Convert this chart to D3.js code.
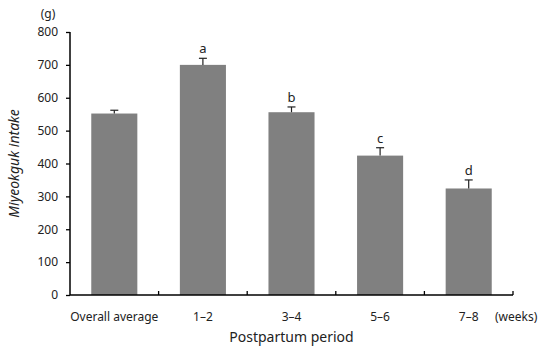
<!DOCTYPE html>
<html>
<head>
<meta charset="utf-8">
<script src="https://cdn.jsdelivr.net/npm/d3@7"></script>
<style>
  body { margin: 0; background: #fff; }
  text { font-family: "Noto Sans", "Open Sans", sans-serif; fill: #222; }
</style>
</head>
<body>
<svg></svg>
<script>
var categories = ["Overall average", "1\u20132", "3\u20134", "5\u20136", "7\u20138"];
var intake = [552, 700, 556, 424, 324];
var errors = [10, 20, 16, 24, 26];
var letters = ["", "a", "b", "c", "d"];
var yTicks = [0, 100, 200, 300, 400, 500, 600, 700, 800];

var margin = {top: 32, right: 37, bottom: 59, left: 70},
    width = 550 - margin.left - margin.right,
    height = 354 - margin.top - margin.bottom;

var svg = d3.select("svg").attr("width", 550).attr("height", 354),
    g = svg.append("g").attr("transform", "translate(" + margin.left + "," + margin.top + ")");

var xScale = d3.scaleBand().domain(categories).range([0, width]).paddingInner(0.48).paddingOuter(0.24);
var xEdges = d3.scaleLinear().domain([0, categories.length]).range([0, width]);
var yScale = d3.scaleLinear().domain([0, 800]).range([height, 0]);

// bars
g.selectAll(".bar")
  .data(intake)
  .enter().append("rect")
    .attr("class", "bar")
    .attr("x", function(d, i) { return xScale(categories[i]); })
    .attr("width", xScale.bandwidth())
    .attr("y", function(d) { return yScale(d); })
    .attr("height", function(d) { return height - yScale(d); })
    .style("fill", "#808080");

// error bars (upper only)
var eb = g.selectAll(".err")
  .data(intake)
  .enter().append("g")
    .attr("class", "err")
    .attr("transform", function(d, i) { return "translate(" + (xScale(categories[i]) + xScale.bandwidth() / 2) + ",0)"; });
eb.append("line")
    .attr("y1", function(d) { return yScale(d); })
    .attr("y2", function(d, i) { return yScale(d + errors[i]); })
    .style("stroke", "#222").style("stroke-width", 1.2);
eb.append("line")
    .attr("x1", -4).attr("x2", 4)
    .attr("y1", function(d, i) { return yScale(d + errors[i]); })
    .attr("y2", function(d, i) { return yScale(d + errors[i]); })
    .style("stroke", "#222").style("stroke-width", 1.2);
eb.append("text")
    .attr("text-anchor", "middle")
    .attr("y", function(d, i) { return yScale(d + errors[i]) - 5; })
    .style("font-size", "13px")
    .text(function(d, i) { return letters[i]; });

// y axis
var yAxis = g.append("g")
    .call(d3.axisLeft(yScale).tickValues(yTicks).tickSize(4).tickPadding(8));
yAxis.select(".domain").attr("d", "M0," + yScale(800) + "V" + height).style("stroke", "#000").style("stroke-width", 1.5);
yAxis.selectAll(".tick line").style("stroke", "#000").style("stroke-width", 1.3);
yAxis.selectAll("text").style("font-size", "12px").style("fill", "#222");

// x axis with inward ticks between categories
var xAxis = g.append("g").attr("transform", "translate(0," + height + ")");
xAxis.append("line")
    .attr("x1", 0).attr("x2", width)
    .style("stroke", "#000").style("stroke-width", 1.5);
xAxis.selectAll(".xtick")
  .data(d3.range(1, categories.length + 1))
  .enter().append("line")
    .attr("x1", function(d) { return xEdges(d); })
    .attr("x2", function(d) { return xEdges(d); })
    .attr("y1", 0).attr("y2", -4)
    .style("stroke", "#000").style("stroke-width", 1.3);
xAxis.selectAll(".xlab")
  .data(categories)
  .enter().append("text")
    .attr("x", function(d) { return xScale(d) + xScale.bandwidth() / 2; })
    .attr("y", 26)
    .attr("text-anchor", "middle")
    .style("font-size", "12px")
    .text(function(d) { return d; });
xAxis.append("text")
    .attr("x", width - 18)
    .attr("y", 26)
    .style("font-size", "12px")
    .text("(weeks)");

// titles
g.append("text")
    .attr("x", width / 2)
    .attr("y", height + 47)
    .attr("text-anchor", "middle")
    .style("font-size", "14px")
    .text("Postpartum period");

g.append("text")
    .attr("transform", "translate(-51," + (height / 2) + ") rotate(-90)")
    .attr("text-anchor", "middle")
    .style("font-size", "14px")
    .style("font-style", "italic")
    .text("Miyeokguk intake");

svg.append("text")
    .attr("x", 48)
    .attr("y", 18)
    .attr("text-anchor", "middle")
    .style("font-size", "12px")
    .text("(g)");
</script>
</body>
</html>
